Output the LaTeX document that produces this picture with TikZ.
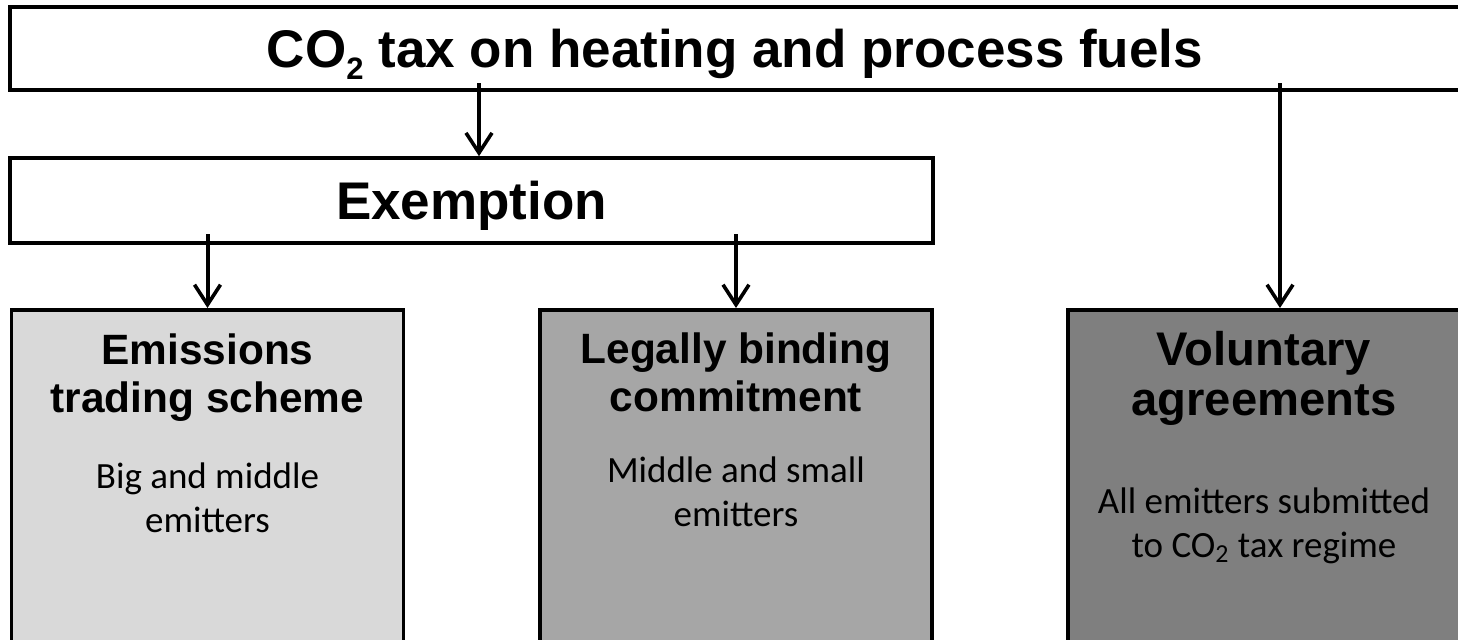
\documentclass[tikz,border=0pt]{standalone}
\usepackage{fontspec}
\setmainfont{Carlito}
\newfontfamily\headfont{Liberation Sans}
\usepackage{tikz}
\usetikzlibrary{arrows.meta, positioning}
\definecolor{lightbox}{HTML}{D9D9D9}
\definecolor{midbox}{HTML}{A6A6A6}
\definecolor{darkbox}{HTML}{7F7F7F}

\tikzset{
    bar/.style={draw, line width=1.8pt, fill=white, inner sep=0pt, anchor=base, font=\headfont\bfseries\fontsize{26.5}{30}\selectfont},
    panel/.style={draw, line width=1.8pt, anchor=north, minimum width=196pt, minimum height=200pt, inner sep=0pt},
    ttl/.style={anchor=north, inner sep=0pt, align=center, font=\headfont\bfseries\fontsize{21.2}{24}\selectfont},
    txt/.style={anchor=north, inner sep=0pt, align=center, font=\fontsize{18.5}{22}\selectfont},
    flow/.style={-{Straight Barb[length=10pt, width=13pt, line width=1.8pt]}, line width=2pt}
}

\begin{document}
\begin{tikzpicture}[x=0.5pt, y=-0.5pt]
    \clip (0,0) rectangle (1458,640);
    \fill[white] (0,0) rectangle (1458,640);

    \node[bar, minimum width=725pt, text height=30.5pt, text depth=11pt] (tax) at (735,68) {CO\raisebox{-6pt}{\fontsize{15.5}{16}\selectfont 2} tax on heating and process fuels};
    \node[bar, minimum width=461.5pt, text height=31pt, text depth=11.5pt] (exempt) at (471.5,220) {Exemption};

    \node[panel, fill=lightbox] (ets) at (207.5,308) {};
    \node[panel, fill=midbox] (lbc) at (736,308) {};
    \node[panel, fill=darkbox] (va) at (1264,308) {};

    \node[ttl] (etsT) at (207.5,333) {Emissions\\trading scheme};
    \node[txt] (etsB) at (207.5,462) {Big and middle\\emitters};
    \node[ttl] (lbcT) at (736,332) {Legally binding\\commitment};
    \node[txt] (lbcB) at (736,456) {Middle and small\\emitters};
    \node[ttl, font=\headfont\bfseries\fontsize{23.6}{25}\selectfont] (vaT) at (1264,331) {Voluntary\\agreements};
    \node[txt] (vaB) at (1264,487) {All emitters submitted\\to CO\textsubscript{2} tax regime};

    % arrows
    \coordinate (a1) at (479,0);
    \coordinate (a4) at (1280,0);
    \draw[flow] ([yshift=4.25pt]tax.south -| a1) -- (exempt.north -| a1);
    \draw[flow] ([yshift=5.25pt]exempt.south -| ets.north) -- (ets.north);
    \draw[flow] ([yshift=5.25pt]exempt.south -| lbc.north) -- (lbc.north);
    \draw[flow] ([yshift=4.25pt]tax.south -| a4) -- (va.north -| a4);
\end{tikzpicture}
\end{document}
